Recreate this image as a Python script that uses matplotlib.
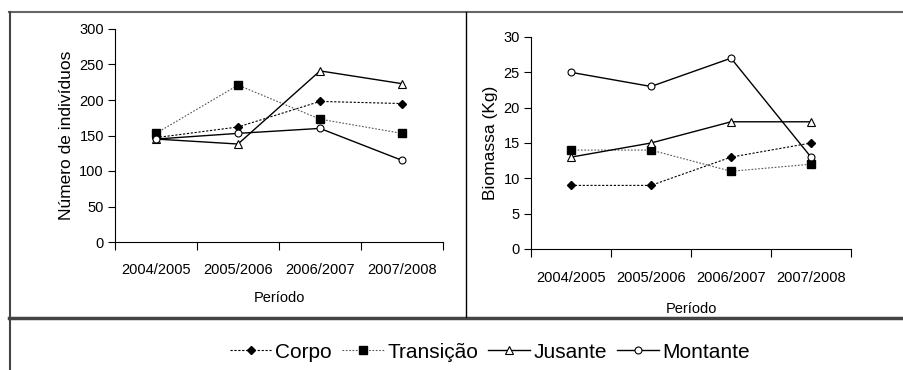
import matplotlib.pyplot as plt
from matplotlib.lines import Line2D
import numpy as np

plt.rcParams['font.family'] = ['Liberation Sans', 'DejaVu Sans']

periodos = ['2004/2005', '2005/2006', '2006/2007', '2007/2008']

# Número de indivíduos
n_corpo = [147, 162, 198, 195]
n_transicao = [153, 221, 173, 153]
n_jusante = [145, 138, 241, 223]
n_montante = [145, 153, 160, 115]

# Biomassa (Kg)
b_corpo = [9, 9, 13, 15]
b_transicao = [14, 14, 11, 12]
b_jusante = [13, 15, 18, 18]
b_montante = [25, 23, 27, 13]

W, H = 904, 370
fig = plt.figure(figsize=(W / 100, H / 100), dpi=100)

# frame lines (pixel coords -> figure fraction)
def fline(x0, y0, x1, y1, **kw):
    fig.add_artist(Line2D([x0 / W, x1 / W], [1 - y0 / H, 1 - y1 / H],
                          transform=fig.transFigure, **kw))

fline(9, 12, 904, 12, color='#666666', lw=1.5)
fline(9.5, 12, 9.5, 370, color='#444444', lw=1.5)
fline(9, 317.5, 904, 317.5, color='#444444', lw=2.5)
fline(466, 12, 466, 317, color='black', lw=1)

styles = {
    'Corpo': dict(marker='D', ls=(0, (2, 1.5)), color='black', mfc='black', ms=4, lw=0.8),
    'Transição': dict(marker='s', ls=(0, (1.5, 1.5)), color='#555555', mfc='black', mec='black', ms=5.5, lw=0.8),
    'Jusante': dict(marker='^', ls='-', color='black', mfc='white', ms=6, lw=1, mew=0.8),
    'Montante': dict(marker='o', ls='-', color='black', mfc='white', ms=5, lw=1, mew=0.8),
}

def panel(rect, series, ymax, ystep, ylabel, tpad, lpad):
    ax = fig.add_axes(rect)
    x = np.arange(len(periodos)) + 0.5
    handles = []
    for name, vals in series:
        h, = ax.plot(x, vals, label=name, **styles[name])
        handles.append(h)
    ax.set_xlim(0, 4)
    ax.set_ylim(0, ymax)
    ax.set_yticks(np.arange(0, ymax + 1, ystep))
    ax.set_xticks(np.arange(0, 5))
    ax.set_xticklabels([])
    ax.set_xticks(x, minor=True)
    ax.set_xticklabels(periodos, minor=True)
    ax.tick_params(axis='x', which='minor', length=0, pad=tpad, labelsize=10.5)
    ax.tick_params(axis='x', which='major', length=6, direction='out')
    ax.tick_params(axis='y', length=5, labelsize=10.5, pad=3)
    ax.spines['top'].set_visible(False)
    ax.spines['right'].set_visible(False)
    ax.set_xlabel('Período', fontsize=10.5, labelpad=lpad)
    ax.set_ylabel(ylabel, fontsize=12.5, labelpad=4)
    return ax, handles

ax1, handles = panel([115 / W, 1 - 242 / H, 328 / W, 213 / H],
                     [('Corpo', n_corpo), ('Transição', n_transicao),
                      ('Jusante', n_jusante), ('Montante', n_montante)],
                     300, 50, 'Número de indivíduos', 15, 10)
ax2, _ = panel([531 / W, 1 - 249 / H, 320 / W, 212 / H],
               [('Corpo', b_corpo), ('Transição', b_transicao),
                ('Jusante', b_jusante), ('Montante', b_montante)],
               30, 5, 'Biomassa (Kg)', 16, 12)

fig.legend(handles=handles, loc='center', bbox_to_anchor=(490 / W, 1 - 352 / H),
           ncol=4, frameon=False, fontsize=15, handlelength=2, handletextpad=0.15,
           columnspacing=0.5)

fig.savefig('out.png', dpi=100)
